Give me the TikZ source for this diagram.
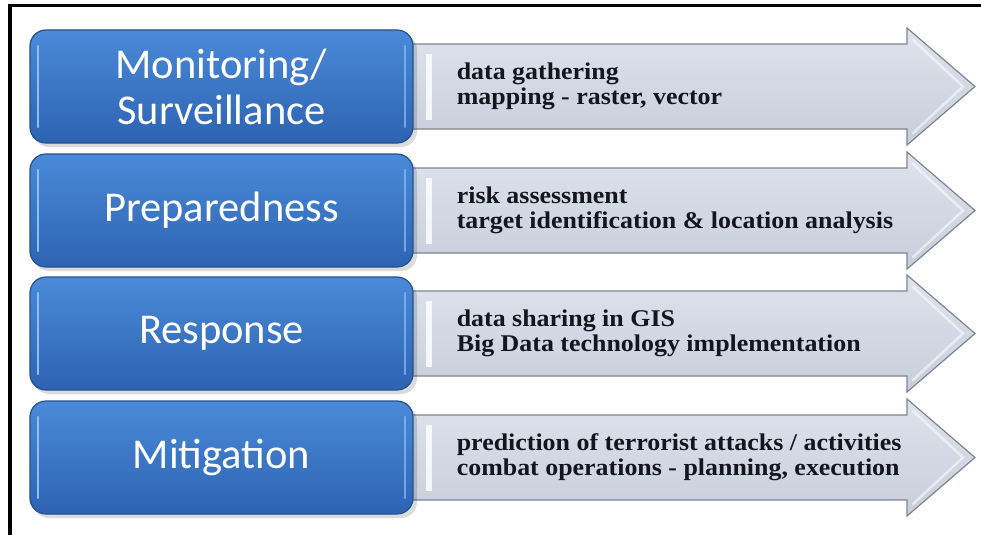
\documentclass[tikz,border=0pt]{standalone}
\usepackage{fontspec}
\setmainfont{Liberation Serif}
\newfontfamily\boxfont{Carlito}
\newfontfamily\notefont[FakeStretch=1.08]{Liberation Serif}
\usetikzlibrary{positioning,calc}
\definecolor{Bt}{HTML}{4A8AD8}
\definecolor{Bb}{HTML}{2D63B2}
\definecolor{Be}{HTML}{24528F}
\definecolor{Bh}{HTML}{8CC0F0}
\definecolor{At}{HTML}{DEE3EC}
\definecolor{Ab}{HTML}{C7CEDB}
\definecolor{Ae}{HTML}{80858E}
\definecolor{ink}{HTML}{15151F}
\tikzset{
  phase/.style={rectangle, rounded corners=16pt, draw=Be, line width=1.2pt,
    top color=Bt, bottom color=Bb, minimum width=383pt, minimum height=113pt,
    inner sep=0pt, text=white, align=center,
    font=\boxfont\fontsize{42.5}{46}\selectfont},
  note/.style={anchor=west, align=left, text=ink, inner sep=0pt,
    font=\notefont\bfseries\fontsize{24}{25}\selectfont},
  arw/.style={draw=Ae, line width=1.2pt, top color=At, bottom color=Ab, line join=miter},
  shade/.style={fill=black, opacity=0.14, rounded corners=16pt},
  gleam/.style={line width=2.4pt, line cap=round},
}
\newcommand{\arrowbody}[1]{%
  \draw[arw] (400,{#1+14}) -- (907,{#1+14}) -- (907,{#1-2}) -- (975,{#1+56.5})
    -- (907,{#1+115}) -- (907,{#1+99}) -- (400,{#1+99}) -- cycle;
  \draw[white, opacity=0.55, gleam] (913,{#1+10}) -- (963,{#1+56.5}) -- (913,{#1+103});
  \fill[white, opacity=0.8] (426,{#1+24}) rectangle (432,{#1+90});}

\begin{document}
\begin{tikzpicture}[x=1pt, y=-1pt]
  \useasboundingbox[fill=white] (0,0) rectangle (981,535);
  \foreach \i/\yt/\lbl/\la/\lb in {%
    1/30/{Monitoring/\\Surveillance}/{data gathering}/{mapping - raster, vector},
    2/154/{Preparedness}/{risk assessment}/{target identification \& location analysis},
    3/277/{Response}/{data sharing in GIS}/{Big Data technology implementation},
    4/401/{Mitigation}/{prediction of terrorist attacks / activities}/{combat operations - planning, execution}}{%
    \arrowbody{\yt}
    \fill[shade] (33,{\yt+4}) rectangle (417,{\yt+117});
    \node[phase] (b\i) at (221.5,{\yt+56.5}) {\lbl};
    \draw[Bh, gleam] (38,{\yt+16}) -- (38,{\yt+97});
    \draw[Bh, gleam, opacity=0.7] (405,{\yt+16}) -- (405,{\yt+97});
    \node[note, right=43pt of b\i.east] (t\i) {\la\\\lb};
  }
  % frame, open at right and bottom
  \draw[line width=3.5pt] (10,535) -- (10,5.5) -- (981,5.5);
\end{tikzpicture}
\end{document}
